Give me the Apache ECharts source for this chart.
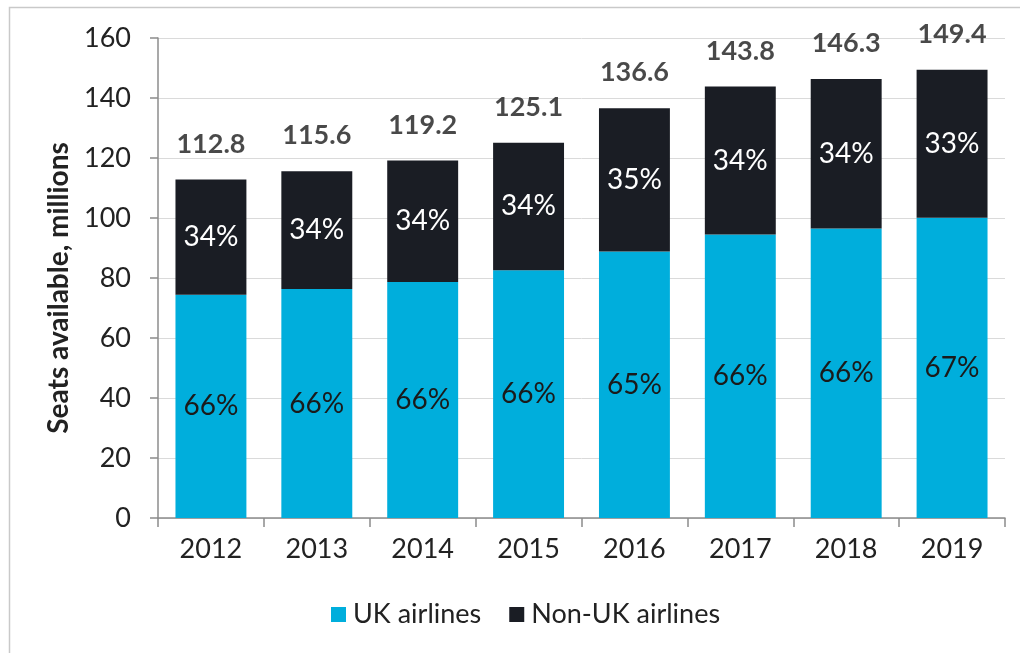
<!DOCTYPE html>
<html>
<head>
<meta charset="utf-8">
<script src="https://cdn.jsdelivr.net/npm/echarts@6/dist/echarts.min.js"></script>
<style>
  html, body { margin: 0; padding: 0; background: #ffffff; }
  #chart { width: 1020px; height: 653px; }
</style>
</head>
<body>
<div id="chart"></div>
<script>
// Seats available at UK airports, millions
const years = ['2012', '2013', '2014', '2015', '2016', '2017', '2018', '2019'];
const totalSeats = [112.8, 115.6, 119.2, 125.1, 136.6, 143.8, 146.3, 149.4];
const ukSeats = [74.4, 76.3, 78.7, 82.6, 88.8, 94.5, 96.5, 100.1];
const yTicks = [0, 20, 40, 60, 80, 100, 120, 140, 160];

const nonUkSeats = totalSeats.map((t, i) => +(t - ukSeats[i]).toFixed(1));

const FONT = 'Lato, "Open Sans", sans-serif';
const UK_COLOR = '#00AEDC';
const NONUK_COLOR = '#1A1D24';
const TEXT_COLOR = '#222222';

const pct = (v, i) => Math.round(v / totalSeats[i] * 100) + '%';

const chart = echarts.init(document.getElementById('chart'), null, { renderer: 'canvas' });

chart.setOption({
  animation: false,
  backgroundColor: '#ffffff',
  textStyle: { fontFamily: FONT },
  graphic: [{
    type: 'rect',
    shape: { x: 9.5, y: 7.5, width: 1200, height: 1000 },
    style: { fill: 'none', stroke: '#c9c9c9', lineWidth: 1.5 },
    silent: true
  }],
  grid: { left: 158, right: 15, top: 38, bottom: 135, containLabel: false },
  legend: {
    bottom: 20,
    left: 326,
    itemWidth: 15,
    itemHeight: 15,
    itemGap: 28,
    icon: 'rect',
    textStyle: { fontFamily: FONT, fontSize: 27, color: TEXT_COLOR, padding: [0, 0, 0, 2] },
    data: ['UK airlines', 'Non-UK airlines']
  },
  xAxis: {
    type: 'category',
    data: years,
    axisLine: { lineStyle: { color: '#8c8c8c', width: 1.5 } },
    axisTick: { show: true, length: 9, lineStyle: { color: '#8c8c8c', width: 1.5 } },
    axisLabel: { fontFamily: FONT, fontSize: 27, color: TEXT_COLOR, margin: 18 }
  },
  yAxis: {
    type: 'value',
    min: yTicks[0],
    max: yTicks[yTicks.length - 1],
    interval: 20,
    name: 'Seats available, millions',
    nameLocation: 'middle',
    nameGap: 84,
    nameTextStyle: { fontFamily: FONT, fontSize: 28, fontWeight: 'bold', color: TEXT_COLOR, padding: [0, 0, 0, -20] },
    axisLine: { show: true, lineStyle: { color: '#8c8c8c', width: 1.5 } },
    axisTick: { show: true, length: 8, lineStyle: { color: '#8c8c8c', width: 1.5 } },
    axisLabel: { fontFamily: FONT, fontSize: 27, color: TEXT_COLOR, margin: 27 },
    splitLine: { lineStyle: { color: '#dadada', width: 1 } }
  },
  series: [
    {
      name: 'UK airlines',
      type: 'bar',
      stack: 'seats',
      barCategoryGap: '33%',
      itemStyle: { color: UK_COLOR },
      label: {
        show: true,
        position: 'inside',
        fontFamily: FONT,
        fontSize: 28,
        color: '#1a1a1a',
        formatter: p => pct(p.value, p.dataIndex)
      },
      data: ukSeats
    },
    {
      name: 'Non-UK airlines',
      type: 'bar',
      stack: 'seats',
      itemStyle: { color: NONUK_COLOR },
      label: {
        show: true,
        position: 'inside',
        fontFamily: FONT,
        fontSize: 28,
        color: '#ffffff',
        formatter: p => pct(p.value, p.dataIndex)
      },
      data: nonUkSeats
    },
    {
      // invisible carrier for the total labels above each stack
      name: 'Total',
      type: 'scatter',
      symbolSize: 0,
      silent: true,
      label: {
        show: true,
        position: 'top',
        distance: 22,
        fontFamily: FONT,
        fontSize: 27,
        fontWeight: 'bold',
        color: '#1c1c1c',
        formatter: p => totalSeats[p.dataIndex].toFixed(1)
      },
      data: totalSeats
    }
  ]
});
</script>
</body>
</html>
